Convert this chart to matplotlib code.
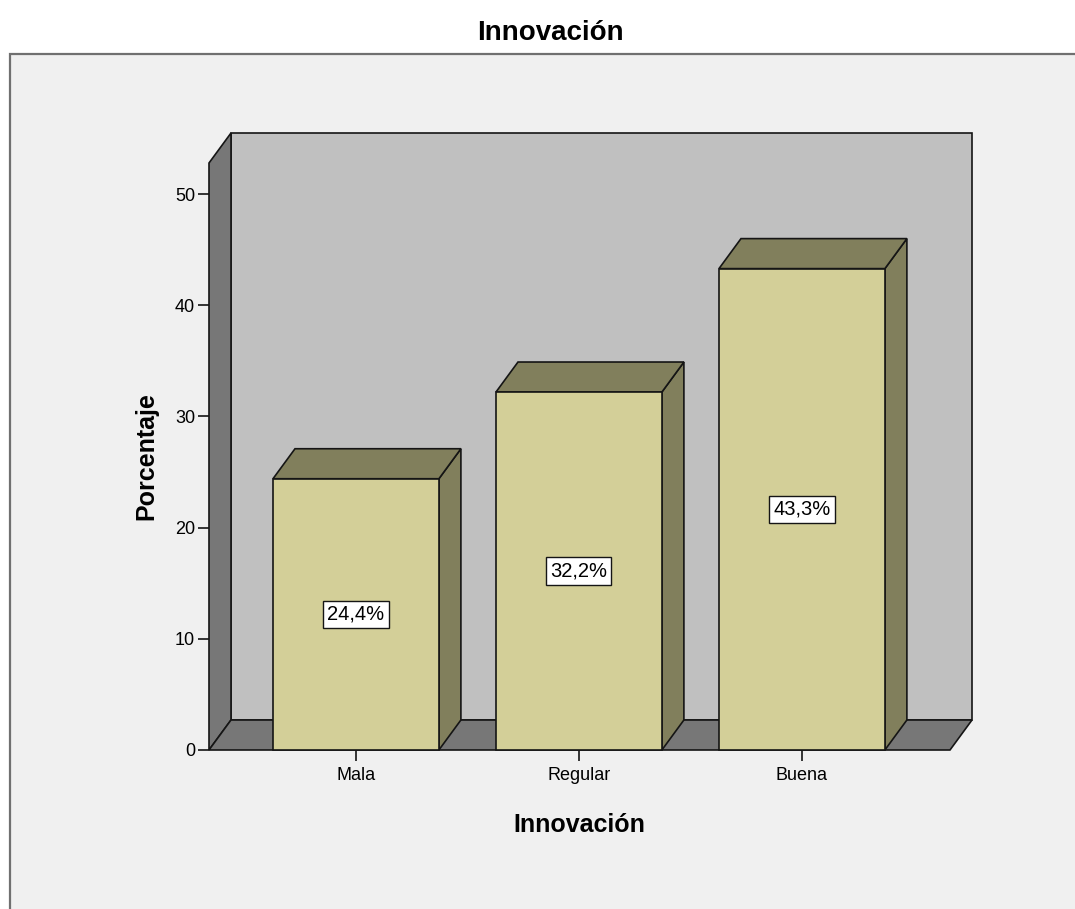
import matplotlib.pyplot as plt
from matplotlib.patches import Polygon, Rectangle

# datos del gráfico
categorias = ['Mala', 'Regular', 'Buena']
porcentajes = [24.4, 32.2, 43.3]
etiquetas = ['24,4%', '32,2%', '43,3%']
ticks_y = [0, 10, 20, 30, 40, 50]

plt.rcParams['font.family'] = ['Liberation Sans', 'DejaVu Sans']

COLOR_FRENTE = '#d3cf98'
COLOR_LADO = '#817f5c'
COLOR_FONDO = '#c0c0c0'
COLOR_PARED = '#777777'
BORDE = '#151515'

fig = plt.figure(figsize=(10.75, 9.09), dpi=100)
fig.patch.set_facecolor('white')

# panel gris claro con borde
fig.patches.append(Rectangle((10 / 1075, -0.05), 1.0, (909 - 54) / 909 + 0.05,
                             transform=fig.transFigure, facecolor='#f0f0f0',
                             edgecolor='#707070', lw=1.6, zorder=-5))

fig.text(550 / 1075, 1 - 33 / 909, 'Innovación', ha='center', va='center',
         fontsize=20, fontweight='bold')

ax = fig.add_axes([209 / 1075, (909 - 750) / 909, (950 - 209) / 1075, (750 - 163) / 909])
ax.set_zorder(1)
ax.set_xlim(-0.659, 2.664)
ax.set_ylim(0, 52.8)
ax.patch.set_visible(False)
for s in ax.spines.values():
    s.set_visible(False)

# profundidad del efecto 3D en unidades de datos (22 px a la derecha, 30 px hacia arriba)
fig.canvas.draw()
inv = ax.transData.inverted()
x0, y0 = ax.transData.transform((0, 0))
dx, dy = inv.transform((x0 + 22, y0 + 30)) - inv.transform((x0, y0))

xmin, xmax = ax.get_xlim()
ymin, ymax = ax.get_ylim()

def poly(pts, color, z):
    ax.add_patch(Polygon(pts, closed=True, facecolor=color, edgecolor=BORDE,
                         lw=1.2, clip_on=False, zorder=z, joinstyle='miter'))

# pared del fondo, pared izquierda y suelo
poly([(xmin + dx, dy), (xmax + dx, dy), (xmax + dx, ymax + dy), (xmin + dx, ymax + dy)], COLOR_FONDO, 1)
poly([(xmin, 0), (xmin + dx, dy), (xmin + dx, ymax + dy), (xmin, ymax)], COLOR_PARED, 2)
poly([(xmin, 0), (xmax, 0), (xmax + dx, dy), (xmin + dx, dy)], COLOR_PARED, 2)

ancho = 0.744
for i, (v, txt) in enumerate(zip(porcentajes, etiquetas)):
    izq, der = i - ancho / 2, i + ancho / 2
    poly([(der, 0), (der + dx, dy), (der + dx, v + dy), (der, v)], COLOR_LADO, 3)
    poly([(izq, v), (der, v), (der + dx, v + dy), (izq + dx, v + dy)], COLOR_LADO, 3)
    poly([(izq, 0), (der, 0), (der, v), (izq, v)], COLOR_FRENTE, 4)
    ax.text(i, v / 2, txt, ha='center', va='center', fontsize=14.5, zorder=6,
            bbox=dict(boxstyle='square,pad=0.2', facecolor='white', edgecolor=BORDE, lw=1.0))

ax.set_xticks(range(len(categorias)))
ax.set_xticklabels(categorias, fontsize=13)
ax.set_yticks(ticks_y)
ax.set_yticklabels([str(t) for t in ticks_y], fontsize=13)
ax.tick_params(axis='both', direction='out', length=8, width=1.2, color=BORDE, pad=2)
ax.tick_params(axis='x', pad=4)

ax.set_xlabel('Innovación', fontsize=18, fontweight='bold', labelpad=21)
ax.set_ylabel('Porcentaje', fontsize=18, fontweight='bold', labelpad=12)

fig.savefig('out.png', dpi=100, facecolor=fig.get_facecolor())
